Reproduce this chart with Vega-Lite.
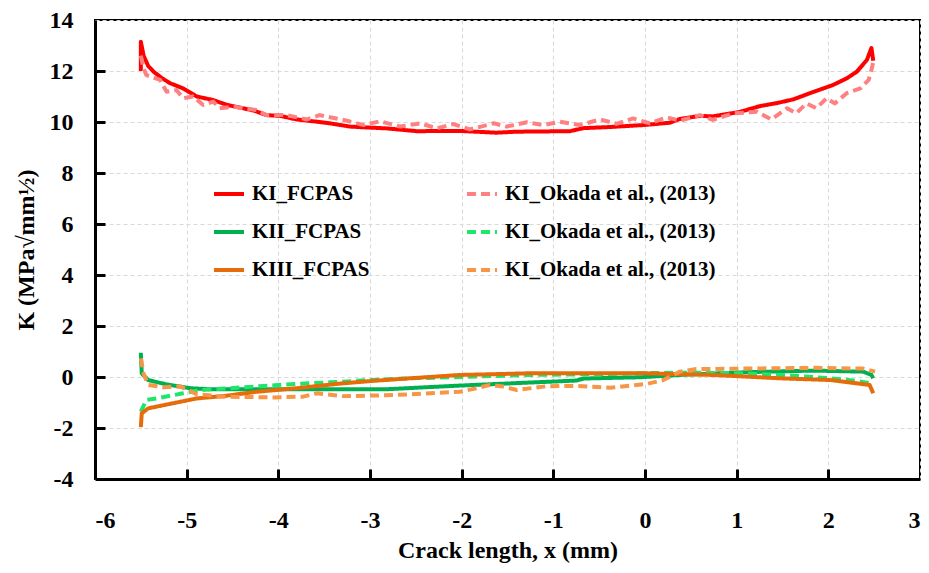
{
  "$schema": "https://vega.github.io/schema/vega-lite/v6.json",
  "width": 825,
  "height": 459,
  "autosize": {"type": "none"},
  "padding": {"left": 95, "top": 20, "right": 9, "bottom": 94},
  "background": "white",
  "datasets": {
    "curves": [
      {"s": "KI_FCPAS", "x": -5.50, "y": 12.0},
      {"s": "KI_FCPAS", "x": -5.50, "y": 13.15},
      {"s": "KI_FCPAS", "x": -5.47, "y": 12.6},
      {"s": "KI_FCPAS", "x": -5.42, "y": 12.2},
      {"s": "KI_FCPAS", "x": -5.36, "y": 11.97},
      {"s": "KI_FCPAS", "x": -5.27, "y": 11.72},
      {"s": "KI_FCPAS", "x": -5.18, "y": 11.52},
      {"s": "KI_FCPAS", "x": -5.04, "y": 11.32},
      {"s": "KI_FCPAS", "x": -4.89, "y": 11.0},
      {"s": "KI_FCPAS", "x": -4.71, "y": 10.86},
      {"s": "KI_FCPAS", "x": -4.56, "y": 10.67},
      {"s": "KI_FCPAS", "x": -4.40, "y": 10.55},
      {"s": "KI_FCPAS", "x": -4.27, "y": 10.45},
      {"s": "KI_FCPAS", "x": -4.13, "y": 10.27},
      {"s": "KI_FCPAS", "x": -3.98, "y": 10.24},
      {"s": "KI_FCPAS", "x": -3.80, "y": 10.1},
      {"s": "KI_FCPAS", "x": -3.60, "y": 10.02},
      {"s": "KI_FCPAS", "x": -3.44, "y": 9.95},
      {"s": "KI_FCPAS", "x": -3.22, "y": 9.82},
      {"s": "KI_FCPAS", "x": -3.00, "y": 9.78},
      {"s": "KI_FCPAS", "x": -2.82, "y": 9.75},
      {"s": "KI_FCPAS", "x": -2.49, "y": 9.64},
      {"s": "KI_FCPAS", "x": -2.02, "y": 9.65},
      {"s": "KI_FCPAS", "x": -1.62, "y": 9.58},
      {"s": "KI_FCPAS", "x": -1.40, "y": 9.62},
      {"s": "KI_FCPAS", "x": -0.82, "y": 9.64},
      {"s": "KI_FCPAS", "x": -0.67, "y": 9.76},
      {"s": "KI_FCPAS", "x": -0.40, "y": 9.8},
      {"s": "KI_FCPAS", "x": -0.02, "y": 9.88},
      {"s": "KI_FCPAS", "x": 0.27, "y": 9.97},
      {"s": "KI_FCPAS", "x": 0.38, "y": 10.12},
      {"s": "KI_FCPAS", "x": 0.60, "y": 10.24},
      {"s": "KI_FCPAS", "x": 0.74, "y": 10.22},
      {"s": "KI_FCPAS", "x": 1.04, "y": 10.4},
      {"s": "KI_FCPAS", "x": 1.25, "y": 10.62},
      {"s": "KI_FCPAS", "x": 1.45, "y": 10.75},
      {"s": "KI_FCPAS", "x": 1.62, "y": 10.89},
      {"s": "KI_FCPAS", "x": 1.80, "y": 11.13},
      {"s": "KI_FCPAS", "x": 2.05, "y": 11.45},
      {"s": "KI_FCPAS", "x": 2.20, "y": 11.71},
      {"s": "KI_FCPAS", "x": 2.31, "y": 11.97},
      {"s": "KI_FCPAS", "x": 2.42, "y": 12.43},
      {"s": "KI_FCPAS", "x": 2.47, "y": 12.9},
      {"s": "KI_FCPAS", "x": 2.49, "y": 12.4},

      {"s": "KI_Okada", "x": -5.50, "y": 12.6},
      {"s": "KI_Okada", "x": -5.47, "y": 12.1},
      {"s": "KI_Okada", "x": -5.44, "y": 11.84},
      {"s": "KI_Okada", "x": -5.29, "y": 11.65},
      {"s": "KI_Okada", "x": -5.22, "y": 11.19},
      {"s": "KI_Okada", "x": -5.11, "y": 11.25},
      {"s": "KI_Okada", "x": -5.04, "y": 10.93},
      {"s": "KI_Okada", "x": -4.93, "y": 11.0},
      {"s": "KI_Okada", "x": -4.82, "y": 10.67},
      {"s": "KI_Okada", "x": -4.71, "y": 10.8},
      {"s": "KI_Okada", "x": -4.64, "y": 10.54},
      {"s": "KI_Okada", "x": -4.49, "y": 10.6},
      {"s": "KI_Okada", "x": -4.24, "y": 10.47},
      {"s": "KI_Okada", "x": -4.13, "y": 10.27},
      {"s": "KI_Okada", "x": -3.91, "y": 10.27},
      {"s": "KI_Okada", "x": -3.69, "y": 10.1},
      {"s": "KI_Okada", "x": -3.55, "y": 10.27},
      {"s": "KI_Okada", "x": -3.25, "y": 10.05},
      {"s": "KI_Okada", "x": -3.07, "y": 9.88},
      {"s": "KI_Okada", "x": -2.89, "y": 10.03},
      {"s": "KI_Okada", "x": -2.67, "y": 9.82},
      {"s": "KI_Okada", "x": -2.45, "y": 9.95},
      {"s": "KI_Okada", "x": -2.27, "y": 9.75},
      {"s": "KI_Okada", "x": -2.09, "y": 9.92},
      {"s": "KI_Okada", "x": -1.91, "y": 9.71},
      {"s": "KI_Okada", "x": -1.65, "y": 9.95},
      {"s": "KI_Okada", "x": -1.51, "y": 9.82},
      {"s": "KI_Okada", "x": -1.29, "y": 9.99},
      {"s": "KI_Okada", "x": -1.11, "y": 9.88},
      {"s": "KI_Okada", "x": -0.93, "y": 10.01},
      {"s": "KI_Okada", "x": -0.71, "y": 9.88},
      {"s": "KI_Okada", "x": -0.49, "y": 10.1},
      {"s": "KI_Okada", "x": -0.31, "y": 9.93},
      {"s": "KI_Okada", "x": -0.13, "y": 10.14},
      {"s": "KI_Okada", "x": 0.05, "y": 9.95},
      {"s": "KI_Okada", "x": 0.24, "y": 10.18},
      {"s": "KI_Okada", "x": 0.38, "y": 10.05},
      {"s": "KI_Okada", "x": 0.60, "y": 10.27},
      {"s": "KI_Okada", "x": 0.74, "y": 10.08},
      {"s": "KI_Okada", "x": 0.96, "y": 10.34},
      {"s": "KI_Okada", "x": 1.22, "y": 10.4},
      {"s": "KI_Okada", "x": 1.38, "y": 10.1},
      {"s": "KI_Okada", "x": 1.55, "y": 10.54},
      {"s": "KI_Okada", "x": 1.65, "y": 10.34},
      {"s": "KI_Okada", "x": 1.76, "y": 10.73},
      {"s": "KI_Okada", "x": 1.87, "y": 10.54},
      {"s": "KI_Okada", "x": 1.98, "y": 10.93},
      {"s": "KI_Okada", "x": 2.07, "y": 10.73},
      {"s": "KI_Okada", "x": 2.20, "y": 11.13},
      {"s": "KI_Okada", "x": 2.35, "y": 11.32},
      {"s": "KI_Okada", "x": 2.44, "y": 11.65},
      {"s": "KI_Okada", "x": 2.47, "y": 12.04},
      {"s": "KI_Okada", "x": 2.50, "y": 12.5},

      {"s": "KII_FCPAS", "x": -5.50, "y": 0.95},
      {"s": "KII_FCPAS", "x": -5.49, "y": 0.14},
      {"s": "KII_FCPAS", "x": -5.42, "y": -0.12},
      {"s": "KII_FCPAS", "x": -5.22, "y": -0.29},
      {"s": "KII_FCPAS", "x": -4.96, "y": -0.44},
      {"s": "KII_FCPAS", "x": -4.75, "y": -0.48},
      {"s": "KII_FCPAS", "x": -4.24, "y": -0.48},
      {"s": "KII_FCPAS", "x": -3.80, "y": -0.48},
      {"s": "KII_FCPAS", "x": -3.33, "y": -0.48},
      {"s": "KII_FCPAS", "x": -2.82, "y": -0.48},
      {"s": "KII_FCPAS", "x": -2.38, "y": -0.40},
      {"s": "KII_FCPAS", "x": -1.98, "y": -0.33},
      {"s": "KII_FCPAS", "x": -1.47, "y": -0.25},
      {"s": "KII_FCPAS", "x": -0.75, "y": -0.14},
      {"s": "KII_FCPAS", "x": -0.67, "y": -0.06},
      {"s": "KII_FCPAS", "x": -0.05, "y": -0.01},
      {"s": "KII_FCPAS", "x": 0.38, "y": 0.08},
      {"s": "KII_FCPAS", "x": 1.11, "y": 0.19},
      {"s": "KII_FCPAS", "x": 1.84, "y": 0.25},
      {"s": "KII_FCPAS", "x": 2.38, "y": 0.21},
      {"s": "KII_FCPAS", "x": 2.47, "y": 0.08},
      {"s": "KII_FCPAS", "x": 2.49, "y": -0.05},

      {"s": "KII_Okada", "x": -5.50, "y": -1.36},
      {"s": "KII_Okada", "x": -5.44, "y": -0.90},
      {"s": "KII_Okada", "x": -5.33, "y": -0.84},
      {"s": "KII_Okada", "x": -5.04, "y": -0.64},
      {"s": "KII_Okada", "x": -4.85, "y": -0.51},
      {"s": "KII_Okada", "x": -4.53, "y": -0.44},
      {"s": "KII_Okada", "x": -4.16, "y": -0.35},
      {"s": "KII_Okada", "x": -3.80, "y": -0.27},
      {"s": "KII_Okada", "x": -3.44, "y": -0.21},
      {"s": "KII_Okada", "x": -3.00, "y": -0.12},
      {"s": "KII_Okada", "x": -2.56, "y": -0.05},
      {"s": "KII_Okada", "x": -2.00, "y": 0.0},
      {"s": "KII_Okada", "x": -1.29, "y": 0.08},
      {"s": "KII_Okada", "x": -0.56, "y": 0.11},
      {"s": "KII_Okada", "x": 0.00, "y": 0.15},
      {"s": "KII_Okada", "x": 0.50, "y": 0.17},
      {"s": "KII_Okada", "x": 1.00, "y": 0.15},
      {"s": "KII_Okada", "x": 1.50, "y": 0.08},
      {"s": "KII_Okada", "x": 2.02, "y": -0.05},
      {"s": "KII_Okada", "x": 2.30, "y": -0.15},
      {"s": "KII_Okada", "x": 2.49, "y": -0.27},

      {"s": "KIII_FCPAS", "x": -5.50, "y": -1.97},
      {"s": "KIII_FCPAS", "x": -5.49, "y": -1.42},
      {"s": "KIII_FCPAS", "x": -5.42, "y": -1.23},
      {"s": "KIII_FCPAS", "x": -5.15, "y": -1.03},
      {"s": "KIII_FCPAS", "x": -4.89, "y": -0.84},
      {"s": "KIII_FCPAS", "x": -4.60, "y": -0.75},
      {"s": "KIII_FCPAS", "x": -4.24, "y": -0.58},
      {"s": "KIII_FCPAS", "x": -3.80, "y": -0.44},
      {"s": "KIII_FCPAS", "x": -3.36, "y": -0.27},
      {"s": "KIII_FCPAS", "x": -3.00, "y": -0.16},
      {"s": "KIII_FCPAS", "x": -2.56, "y": -0.05},
      {"s": "KIII_FCPAS", "x": -2.02, "y": 0.08},
      {"s": "KIII_FCPAS", "x": -1.65, "y": 0.11},
      {"s": "KIII_FCPAS", "x": -1.22, "y": 0.15},
      {"s": "KIII_FCPAS", "x": -0.05, "y": 0.15},
      {"s": "KIII_FCPAS", "x": 0.74, "y": 0.08},
      {"s": "KIII_FCPAS", "x": 1.47, "y": -0.05},
      {"s": "KIII_FCPAS", "x": 2.02, "y": -0.12},
      {"s": "KIII_FCPAS", "x": 2.45, "y": -0.31},
      {"s": "KIII_FCPAS", "x": 2.49, "y": -0.64},

      {"s": "KIII_Okada", "x": -5.50, "y": 0.73},
      {"s": "KIII_Okada", "x": -5.47, "y": 0.14},
      {"s": "KIII_Okada", "x": -5.42, "y": -0.31},
      {"s": "KIII_Okada", "x": -5.25, "y": -0.40},
      {"s": "KIII_Okada", "x": -5.07, "y": -0.37},
      {"s": "KIII_Okada", "x": -4.89, "y": -0.67},
      {"s": "KIII_Okada", "x": -4.60, "y": -0.77},
      {"s": "KIII_Okada", "x": -4.05, "y": -0.80},
      {"s": "KIII_Okada", "x": -3.73, "y": -0.77},
      {"s": "KIII_Okada", "x": -3.58, "y": -0.64},
      {"s": "KIII_Okada", "x": -3.29, "y": -0.75},
      {"s": "KIII_Okada", "x": -3.00, "y": -0.73},
      {"s": "KIII_Okada", "x": -2.75, "y": -0.71},
      {"s": "KIII_Okada", "x": -2.02, "y": -0.58},
      {"s": "KIII_Okada", "x": -1.84, "y": -0.44},
      {"s": "KIII_Okada", "x": -1.69, "y": -0.31},
      {"s": "KIII_Okada", "x": -1.55, "y": -0.37},
      {"s": "KIII_Okada", "x": -1.40, "y": -0.51},
      {"s": "KIII_Okada", "x": -1.07, "y": -0.36},
      {"s": "KIII_Okada", "x": -0.75, "y": -0.35},
      {"s": "KIII_Okada", "x": -0.38, "y": -0.42},
      {"s": "KIII_Okada", "x": 0.02, "y": -0.27},
      {"s": "KIII_Okada", "x": 0.20, "y": -0.12},
      {"s": "KIII_Okada", "x": 0.38, "y": 0.21},
      {"s": "KIII_Okada", "x": 0.56, "y": 0.31},
      {"s": "KIII_Okada", "x": 1.11, "y": 0.33},
      {"s": "KIII_Okada", "x": 1.84, "y": 0.36},
      {"s": "KIII_Okada", "x": 2.38, "y": 0.33},
      {"s": "KIII_Okada", "x": 2.51, "y": 0.21}
    ]
  },
  "data": {"name": "curves"},
  "resolve": {"axis": {"x": "independent", "y": "independent"}},
  "layer": [
    {
      "mark": {"type": "line", "strokeWidth": 4, "strokeCap": "butt", "strokeJoin": "round", "clip": true},
      "encoding": {
        "x": {
          "field": "x",
          "type": "quantitative",
          "scale": {"domain": [-6, 3], "nice": false, "zero": false},
          "axis": {"title": "Crack length, x (mm)", "values": [-6, -5, -4, -3, -2, -1, 0, 1, 2, 3], "labelPadding": 29, "titlePadding": 6,
                   "labelExpr": "replace(datum.label, '\u2212', '-')"}
        },
        "y": {
          "field": "y",
          "type": "quantitative",
          "scale": {"domain": [-4, 14], "nice": false, "zero": false},
          "axis": {"title": "K (MPa√mm½)", "values": [-4, -2, 0, 2, 4, 6, 8, 10, 12, 14], "labelPadding": 22, "titlePadding": 11,
                   "labelExpr": "replace(datum.label, '\u2212', '-')"}
        },
        "order": {"field": "x", "type": "quantitative"},
        "color": {
          "field": "s",
          "type": "nominal",
          "scale": {
            "domain": ["KI_FCPAS", "KII_FCPAS", "KIII_FCPAS", "KI_Okada", "KII_Okada", "KIII_Okada"],
            "range": ["#ff0000", "#00b050", "#e46c0a", "#ff8080", "#1de66b", "#f79646"]
          },
          "legend": {"title": null, "labelExpr": "indexof(datum.label, 'Okada') >= 0 ? 'KI_Okada et al., (2013)' : datum.label"}
        },
        "strokeDash": {
          "field": "s",
          "type": "nominal",
          "scale": {
            "domain": ["KI_FCPAS", "KII_FCPAS", "KIII_FCPAS", "KI_Okada", "KII_Okada", "KIII_Okada"],
            "range": [[1, 0], [1, 0], [1, 0], [9, 5], [9, 5], [9, 5]]
          },
          "legend": {"title": null, "labelExpr": "indexof(datum.label, 'Okada') >= 0 ? 'KI_Okada et al., (2013)' : datum.label"}
        }
      }
    },
    {
      "mark": {"type": "point", "opacity": 0},
      "encoding": {
        "x": {
          "field": "x",
          "type": "quantitative",
          "axis": {"orient": "top", "offset": -459, "values": [-5, -4, -3, -2, -1, 0, 1, 2],
                   "ticks": true, "tickSize": 10, "labels": false, "domain": false, "grid": false, "title": null}
        },
        "y": {
          "field": "y",
          "type": "quantitative",
          "axis": {"orient": "right", "offset": -825, "values": [-2, 0, 2, 4, 6, 8, 10, 12],
                   "ticks": true, "tickSize": 10, "labels": false, "domain": false, "grid": false, "title": null}
        }
      }
    }
  ],
  "config": {
    "font": "Liberation Serif, Times New Roman, serif",
    "view": {"stroke": "#000000", "strokeWidth": 2},
    "axis": {
      "domainColor": "#000000",
      "domainWidth": 3,
      "tickColor": "#000000",
      "tickWidth": 3,
      "ticks": false,
      "tickSize": 0,
      "grid": true,
      "gridColor": "#d9d9d9",
      "gridDash": [4, 3],
      "gridWidth": 1,
      "labelFont": "Liberation Serif, Times New Roman, serif",
      "labelFontWeight": "bold",
      "labelFontSize": 24,
      "labelColor": "#000000",
      "titleFont": "Liberation Serif, Times New Roman, serif",
      "titleFontWeight": "bold",
      "titleFontSize": 24,
      "titleColor": "#000000"
    },
    "legend": {
      "orient": "none",
      "legendX": 117,
      "legendY": 157,
      "columns": 2,
      "padding": 0,
      "columnPadding": 89,
      "rowPadding": 11,
      "symbolType": "stroke",
      "symbolSize": 900,
      "symbolStrokeWidth": 4,
      "labelOffset": 6,
      "labelFont": "Liberation Serif, Times New Roman, serif",
      "labelFontWeight": "bold",
      "labelFontSize": 21,
      "labelColor": "#000000",
      "labelLimit": 0
    }
  }
}
